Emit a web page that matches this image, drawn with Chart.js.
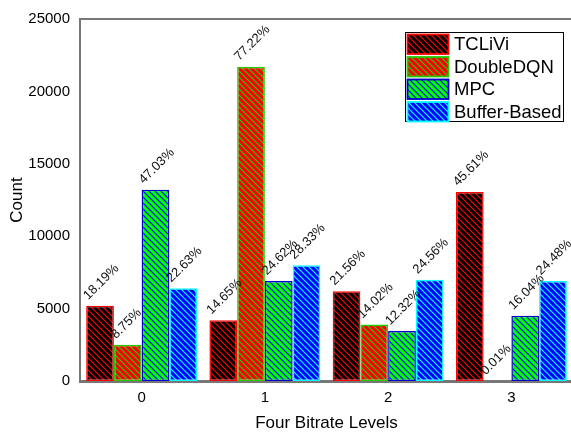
<!DOCTYPE html>
<html>
<head>
<meta charset="utf-8">
<script src="https://cdn.jsdelivr.net/npm/chart.js@4"></script>
<style>
  html, body { margin: 0; padding: 0; background: #fff; overflow: hidden; }
  #wrap { width: 575px; height: 434px; }
</style>
</head>
<body>
<div id="wrap"><canvas id="chart" width="575" height="434"></canvas></div>
<script>
// ===== data =====
const levels = ['0', '1', '2', '3'];
const seriesNames = ['TCLiVi', 'DoubleDQN', 'MPC', 'Buffer-Based'];
const tcliviCounts = [5200, 4200, 6200, 13050];
const doubleDqnCounts = [2500, 21700, 3900, 3];
const mpcCounts = [13200, 6900, 3450, 4500];
const bufferCounts = [6400, 8000, 7000, 6900];
const tcliviPct = ['18.19%', '14.65%', '21.56%', '45.61%'];
const doubleDqnPct = ['8.75%', '77.22%', '14.02%', '0.01%'];
const mpcPct = ['47.03%', '24.62%', '12.32%', '16.04%'];
const bufferPct = ['22.63%', '28.33%', '24.56%', '24.48%'];
const yTicks = [0, 5000, 10000, 15000, 20000, 25000];

// fill / hatch / border colours per series
const fills = ['#000000', '#ff0000', '#00ff00', '#0000ff'];
const hatches = ['#ff0000', '#22cc00', '#0000ff', '#00ffff'];
const borders = ['#ff0000', '#22cc00', '#0000cc', '#00ffff'];

const FONT = '"Liberation Sans", Arial, sans-serif';

// diagonal "\" hatch pattern
function makeHatch(bg, fg) {
    const s = 6;
    const c = document.createElement('canvas');
    c.width = s; c.height = s;
    const g = c.getContext('2d');
    g.fillStyle = bg;
    g.fillRect(0, 0, s, s);
    g.strokeStyle = fg;
    g.lineWidth = 1.2;
    g.beginPath();
    g.moveTo(-1, -1); g.lineTo(s + 1, s + 1);
    g.moveTo(-1, s - 1); g.lineTo(1, s + 1);
    g.moveTo(s - 1, -1); g.lineTo(s + 1, 1);
    g.stroke();
    return g.createPattern(c, 'repeat');
}

const ctxEl = document.getElementById('chart');
const patterns = fills.map((f, i) => makeHatch(f, hatches[i]));
const allCounts = [tcliviCounts, doubleDqnCounts, mpcCounts, bufferCounts];
const allPct = [tcliviPct, doubleDqnPct, mpcPct, bufferPct];

const datasets = seriesNames.map((name, i) => ({
    label: name,
    data: allCounts[i],
    backgroundColor: patterns[i],
    borderColor: borders[i],
    borderWidth: 1.5,
    borderSkipped: false,
    categoryPercentage: 0.9,
    barPercentage: 1.0
}));

// percentage labels, frame top line and boxed legend
const extrasPlugin = {
    id: 'extras',
    afterDatasetsDraw(chart) {
        const c = chart.ctx;
        const area = chart.chartArea;
        c.save();
        // top frame line
        c.strokeStyle = '#777';
        c.lineWidth = 2;
        c.beginPath();
        c.moveTo(area.left, area.top);
        c.lineTo(area.right, area.top);
        c.stroke();

        // rotated percentage labels, starting at each bar's top-left corner
        c.fillStyle = '#111';
        c.font = '13px ' + FONT;
        c.textAlign = 'left';
        c.textBaseline = 'alphabetic';
        chart.data.datasets.forEach((ds, di) => {
            const meta = chart.getDatasetMeta(di);
            meta.data.forEach((bar, i) => {
                const x = bar.x - bar.width / 2;
                c.save();
                c.translate(x + 2, bar.y - 5.5);
                c.rotate(-Math.PI / 4);
                c.fillText(allPct[di][i], 0, 0);
                c.restore();
            });
        });

        // legend box
        const lx = 405, ly = 32, lw = 158, lh = 89;
        c.fillStyle = '#fff';
        c.fillRect(lx, ly, lw, lh);
        c.strokeStyle = '#000';
        c.lineWidth = 1;
        c.strokeRect(lx + 0.5, ly + 0.5, lw, lh);
        c.font = '18.5px ' + FONT;
        c.textBaseline = 'middle';
        seriesNames.forEach((name, i) => {
            const y = ly + 2.5 + i * 22.5;
            c.fillStyle = patterns[i];
            c.fillRect(lx + 2.5, y, 41, 19.5);
            c.strokeStyle = borders[i];
            c.lineWidth = 1.8;
            c.strokeRect(lx + 2.5, y, 41, 19.5);
            c.fillStyle = '#000';
            c.fillText(name, lx + 49, y + 10.5);
        });
        c.restore();
    }
};

new Chart(ctxEl, {
    type: 'bar',
    data: { labels: levels, datasets: datasets },
    plugins: [extrasPlugin],
    options: {
        responsive: false,
        animation: false,
        layout: { padding: { top: 14, right: 2, left: 0, bottom: 0 } },
        plugins: {
            legend: { display: false },
            tooltip: { enabled: false }
        },
        scales: {
            x: {
                offset: true,
                grid: { display: false, drawTicks: false },
                border: { display: true, color: '#777', width: 3 },
                ticks: { color: '#000', font: { size: 15, family: FONT }, padding: 8 },
                title: {
                    display: true,
                    text: 'Four Bitrate Levels',
                    color: '#000',
                    font: { size: 17, family: FONT },
                    padding: { top: 5, bottom: 0 }
                },
                afterFit(scale) { scale.height = 53; }
            },
            y: {
                min: 0,
                max: 25000,
                afterBuildTicks(scale) { scale.ticks = yTicks.map(v => ({ value: v })); },
                grid: { display: false, drawTicks: false },
                border: { display: true, color: '#777', width: 2 },
                ticks: {
                    color: '#000',
                    font: { size: 15, family: FONT },
                    padding: 10,
                    callback: v => String(v)
                },
                title: {
                    display: true,
                    text: 'Count',
                    color: '#000',
                    font: { size: 17, family: FONT },
                    padding: { top: 7, bottom: 0 }
                },
                afterFit(scale) { scale.width = 80; }
            }
        }
    }
});
</script>
</body>
</html>
